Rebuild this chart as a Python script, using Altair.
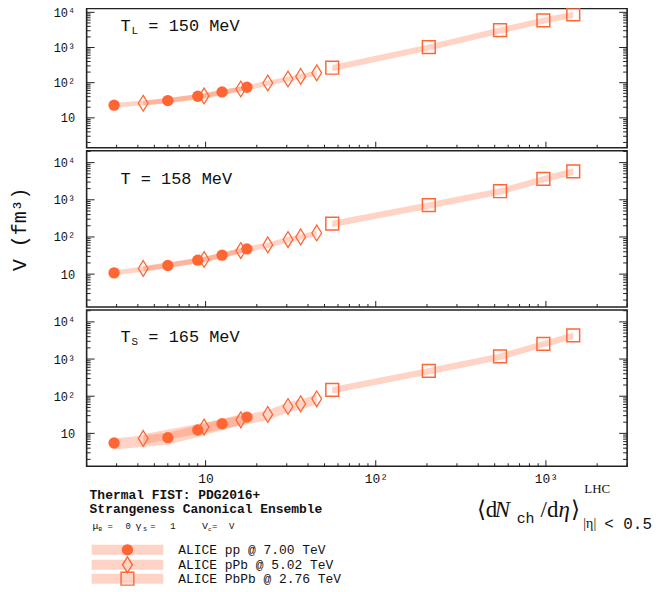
import altair as alt
import pandas as pd

# ---------------- data ----------------
systems = ["ALICE pp @ 7.00 TeV", "ALICE pPb @ 5.02 TeV", "ALICE PbPb @ 2.76 TeV"]

# <dN_ch/deta>
pp_x = [2.9, 6.0, 9.0, 12.5, 17.5]
ppb_x = [4.3, 9.8, 16.1, 23.2, 30.5, 36.2, 45.0]
pbpb_x = [55.5, 205.0, 537.5, 966.0, 1447.5]

# V (fm^3), T_L = 150 MeV
v150_pp = [22.9, 31.0, 41.0, 54.5, 74.0]
v150_ppb = [26.0, 42.0, 66.0, 98.0, 127.0, 151.0, 191.0]
v150_pbpb = [266.0, 1020.0, 3100.0, 5900.0, 8700.0]
e150_pp = [0.15, 0.15, 0.16, 0.16, 0.15]
e150_ppb = [0.17, 0.17, 0.17, 0.17, 0.17, 0.17, 0.17]
e150_pbpb = [0.2, 0.2, 0.2, 0.2, 0.2]

# T = 158 MeV
v158_pp = [10.8, 17.1, 23.7, 32.3, 47.7]
v158_ppb = [14.2, 24.7, 43.0, 61.0, 85.0, 100.0, 128.0]
v158_pbpb = [228.0, 720.0, 1700.0, 3640.0, 5850.0]
e158_pp = [0.15, 0.16, 0.16, 0.16, 0.15]
e158_ppb = [0.17, 0.17, 0.17, 0.17, 0.17, 0.17, 0.17]
e158_pbpb = [0.2, 0.2, 0.2, 0.2, 0.2]

# T_S = 165 MeV
v165_pp = [5.5, 7.65, 12.3, 18.2, 27.4]
v165_ppb = [7.3, 14.8, 23.2, 32.3, 52.8, 62.4, 85.0]
v165_pbpb = [148.0, 479.0, 1180.0, 2570.0, 4350.0]
e165_pp = [0.33, 0.35, 0.35, 0.33, 0.3]
e165_ppb = [0.3, 0.3, 0.3, 0.3, 0.3, 0.3, 0.3]
e165_pbpb = [0.2, 0.2, 0.2, 0.2, 0.2]

ORANGE = "#FF6633"
BAND_OP = 0.28
MONO = "Liberation Mono"
SERIF = "Liberation Serif"
W = 543


def frame(vpp, vppb, vpbpb, epp, eppb, epbpb):
    rows = []
    for key, xs, vs, es in (("pp", pp_x, vpp, epp), ("pPb", ppb_x, vppb, eppb),
                            ("PbPb", pbpb_x, vpbpb, epbpb)):
        for x, v, e in zip(xs, vs, es):
            rows.append({"sys": key, "x": x, "V": v, "lo": v * (1 - e), "hi": v * (1 + e)})
    return pd.DataFrame(rows)


def text(t, x, y, size, font=MONO, weight="normal", style="normal", align="left"):
    return alt.Chart(pd.DataFrame({"t": [t]})).mark_text(
        align=align, baseline="middle", font=font, fontSize=size,
        fontWeight=weight, fontStyle=style, color="#111"
    ).encode(x=alt.value(x), y=alt.value(y), text="t:N")


DIAMOND = "M0,-1L0.62,0L0,1L-0.62,0Z"


def point_marks(data, xenc, yenc):
    base = alt.Chart(data)
    pp = base.transform_filter(alt.datum.sys == "pp").mark_point(
        shape="circle", filled=True, size=130, color=ORANGE, opacity=1
    ).encode(x=xenc, y=yenc)
    ppb = base.transform_filter(alt.datum.sys == "pPb").mark_point(
        shape=DIAMOND, filled=False, size=250, color=ORANGE, strokeWidth=1.3, opacity=1
    ).encode(x=xenc, y=yenc)
    pbpb = base.transform_filter(alt.datum.sys == "PbPb").mark_point(
        shape="square", filled=False, size=165, color=ORANGE, strokeWidth=1.5, opacity=1
    ).encode(x=xenc, y=yenc)
    return [pp, ppb, pbpb]


def panel(df, H, ydom, label_layers, show_title, bottom, extra=None):
    xscale = alt.Scale(type="log", domain=[2, 3000], nice=False)
    yscale = alt.Scale(type="log", domain=ydom, nice=False)
    if bottom:
        xaxis = alt.Axis(values=[10, 100, 1000], labelExpr=
                         "datum.value == 10 ? '10' : datum.value == 100 ? '10²' : '10³'",
                         domain=False, ticks=False, grid=False, title=None,
                         labelFont=MONO, labelFontSize=13, labelColor="#111", labelPadding=6)
    else:
        xaxis = None
    yaxis = alt.Axis(values=[10, 100, 1000, 10000], labelExpr=
                     "datum.value == 10 ? '10' : datum.value == 100 ? '10²' : datum.value == 1000 ? '10³' : '10⁴'",
                     domain=False, ticks=False, grid=False, title="V (fm³)",
                     titleFont=MONO, titleFontSize=20, titleFontWeight="normal",
                     titleColor="#111", titleOpacity=1 if show_title else 0,
                     titlePadding=24,
                     labelFont=MONO, labelFontSize=12, labelColor="#111", labelPadding=12)

    X = lambda f: alt.X(f, scale=xscale, axis=xaxis)
    Y = lambda f: alt.Y(f, scale=yscale, axis=yaxis)

    band = alt.Chart(df).mark_area(color=ORANGE, opacity=BAND_OP).encode(
        x=X("x:Q"), y=Y("lo:Q"), y2="hi:Q", detail="sys:N")
    pts = point_marks(df, X("x:Q"), Y("V:Q"))

    # inward ticks
    yt = []
    for k in range(0, 5):
        for m in range(1, 10):
            v = m * 10 ** k
            if ydom[0] <= v <= ydom[1]:
                yt.append({"v": v, "major": m == 1})
    ytd = pd.DataFrame(yt)
    xt = []
    for k in range(0, 4):
        for m in range(1, 10):
            v = m * 10 ** k
            if 2 <= v <= 3000:
                xt.append({"v": v, "major": m == 1})
    xtd = pd.DataFrame(xt)

    tick_layers = []
    for major, ln in ((True, 8), (False, 4)):
        d = ytd[ytd.major == major]
        tick_layers.append(alt.Chart(d).mark_rule(color="#222", strokeWidth=1).encode(
            y=Y("v:Q"), x=alt.value(0), x2=alt.value(ln)))
        tick_layers.append(alt.Chart(d).mark_rule(color="#222", strokeWidth=1).encode(
            y=Y("v:Q"), x=alt.value(W), x2=alt.value(W - ln)))
    for major, ln in ((True, 6), (False, 3)):
        d = xtd[xtd.major == major]
        tick_layers.append(alt.Chart(d).mark_rule(color="#222", strokeWidth=1).encode(
            x=X("v:Q"), y=alt.value(H), y2=alt.value(H - ln)))

    layers = [band] + pts + tick_layers + label_layers + (extra or [])
    return alt.layer(*layers).properties(width=W, height=H)


df150 = frame(v150_pp, v150_ppb, v150_pbpb, e150_pp, e150_ppb, e150_pbpb)
df158 = frame(v158_pp, v158_ppb, v158_pbpb, e158_pp, e158_ppb, e158_pbpb)
df165 = frame(v165_pp, v165_ppb, v165_pbpb, e165_pp, e165_ppb, e165_pbpb)

lab150 = [text("T", 34, 18, 17), text("L", 45, 23, 11), text("= 150 MeV", 62, 18, 17)]
lab158 = [text("T = 158 MeV", 34, 28, 17)]
lab165 = [text("T", 34, 27, 17), text("S", 45, 32, 11), text("= 165 MeV", 62, 27, 17)]

# footer (below bottom panel): header, legend, x title
footer = [
    text("Thermal FIST: PDG2016+", 3, 186, 13, weight="bold"),
    text("Strangeness Canonical Ensemble", 3, 200, 13, weight="bold"),
    text("μ", 6, 217, 10), text("B", 12, 220, 6), text("=", 21, 217, 9), text("0", 39, 217, 9),
    text("γ", 49, 217, 10), text("S", 57, 220, 6), text("=", 64, 217, 9), text("1", 84, 217, 9),
    text("V", 116, 217, 10), text("c", 122, 220, 6), text("=", 126, 217, 9), text("V", 143, 217, 9),
    # x title
    text("⟨d", 392, 201, 23, font=SERIF),
    text("N", 410, 201, 23, font=SERIF, style="italic"),
    text("ch", 432, 209, 15),
    text("/d", 456, 201, 23, font=SERIF),
    text("η", 474, 201, 23, font=SERIF, style="italic"),
    text("⟩", 487, 201, 23, font=SERIF),
    text("LHC", 500, 180, 13, font=SERIF),
    text("|η|", 499, 215, 14, font=SERIF),
    text("< 0.5", 520, 215, 16),
]
legend_rows = [241, 256, 270]
legend_shapes = [("circle", True, 130), (DIAMOND, False, 250), ("square", False, 165)]
for (shape, filled, size), label, ry in zip(legend_shapes, systems, legend_rows):
    footer.append(alt.Chart(pd.DataFrame({"t": [label]})).mark_rect(
        color=ORANGE, opacity=BAND_OP).encode(
        x=alt.value(5), x2=alt.value(77), y=alt.value(ry - 5), y2=alt.value(ry + 5)))
    footer.append(alt.Chart(pd.DataFrame({"t": [label]})).mark_point(
        shape=shape, filled=filled, size=size, color=ORANGE, opacity=1,
        strokeWidth=1.4).encode(x=alt.value(41), y=alt.value(ry)))
    footer.append(text(label, 92, ry, 13))

p1 = panel(df150, 140, [1.416, 12980], lab150, False, False)
p2 = panel(df158, 157, [1.306, 20960], lab158, True, False)
p3 = panel(df165, 157, [1.306, 20960], lab165, False, True, extra=footer)

chart = alt.vconcat(p1, p2, p3, spacing=0).properties(
    padding={"left": 0, "top": -6, "right": 0, "bottom": 0}
).configure_view(stroke="#222", strokeWidth=1.6)

chart.save("out.html", embed_options={"renderer": "svg", "actions": False})
